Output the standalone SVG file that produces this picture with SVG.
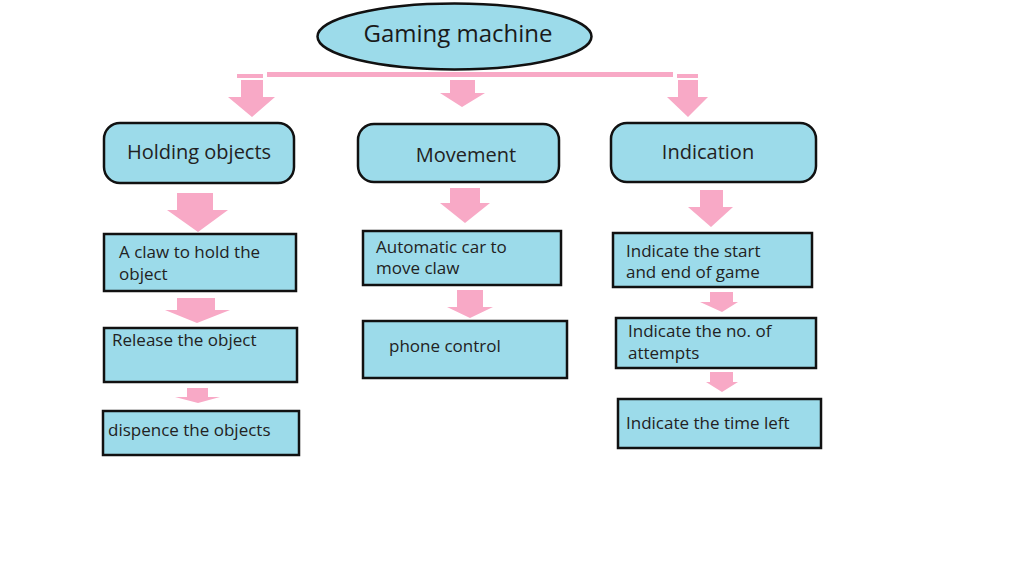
<svg xmlns="http://www.w3.org/2000/svg" width="1024" height="566" viewBox="0 0 1024 566">
<style>
.box{fill:#9cdbea;stroke:#111;stroke-width:2.5}
.arr{fill:#f8a9c6}
.t{font-family:"Open Sans","Noto Sans",sans-serif;font-size:17px;fill:#222}
.h{font-family:"Open Sans","Noto Sans",sans-serif;font-size:20px;fill:#222}
.title{font-family:"Open Sans","Noto Sans",sans-serif;font-size:24px;fill:#1a1a1a}
</style>
<rect width="1024" height="566" fill="#fff"/>
<g id="connectors">
<rect class="arr" x="267" y="72" width="406" height="5"/>
<rect class="arr" x="237" y="74" width="26" height="4"/>
<rect class="arr" x="677" y="74" width="21" height="4"/>
<path class="arr" d="M241 80H263V97H275L252 117L228 97H241Z"/>
<path class="arr" d="M450 80H475V93H485L462 107L440 93H450Z"/>
<path class="arr" d="M678 80H698V97H708L688 117L667 97H678Z"/>
<path class="arr" d="M177 193H213V210H228L198 232L167 210H177Z"/>
<path class="arr" d="M450 188H480V203H490L465 223L440 203H450Z"/>
<path class="arr" d="M700 190H723V207H733L711 227L688 207H700Z"/>
<path class="arr" d="M177 298H215V310H230L197 323L165 310H177Z"/>
<path class="arr" d="M457 290H483V307H493L470 318L447 307H457Z"/>
<path class="arr" d="M710 292H733V302H738L722 312L700 302H710Z"/>
<path class="arr" d="M187 388H208V397H220L198 403L175 397H187Z"/>
<path class="arr" d="M710 372H733V382H738L722 392L706 382H710Z"/>
</g>
<g id="root">
<ellipse class="box" cx="454.5" cy="36.5" rx="137" ry="33"/>
<text class="title" x="458" y="42" text-anchor="middle">Gaming machine</text>
</g>
<g id="holding">
<rect class="box" x="104" y="123" width="190" height="60" rx="16"/>
<text class="h" x="199" y="159" text-anchor="middle">Holding objects</text>
</g>
<g id="movement">
<rect class="box" x="358" y="124" width="201" height="58" rx="16"/>
<text class="h" x="466" y="162" text-anchor="middle">Movement</text>
</g>
<g id="indication">
<rect class="box" x="611" y="123" width="205" height="59" rx="16"/>
<text class="h" x="708" y="159" text-anchor="middle">Indication</text>
</g>
<g id="claw">
<rect class="box" x="104" y="234" width="192" height="57"/>
<text class="t" x="119" y="258">A claw to hold the</text>
<text class="t" x="119" y="280">object</text>
</g>
<g id="release">
<rect class="box" x="104" y="328" width="193" height="54"/>
<text class="t" x="112" y="346">Release the object</text>
</g>
<g id="dispence">
<rect class="box" x="103" y="411" width="196" height="44"/>
<text class="t" x="108" y="436">dispence the objects</text>
</g>
<g id="car">
<rect class="box" x="363" y="231" width="198" height="54"/>
<text class="t" x="376" y="253">Automatic car to</text>
<text class="t" x="376" y="274">move claw</text>
</g>
<g id="phone">
<rect class="box" x="363" y="321" width="204" height="57"/>
<text class="t" x="389" y="352">phone control</text>
</g>
<g id="startend">
<rect class="box" x="613" y="233" width="199" height="54"/>
<text class="t" x="626" y="257">Indicate the start</text>
<text class="t" x="626" y="278">and end of game</text>
</g>
<g id="attempts">
<rect class="box" x="616" y="318" width="200" height="50"/>
<text class="t" x="628" y="337">Indicate the no. of</text>
<text class="t" x="628" y="359">attempts</text>
</g>
<g id="timeleft">
<rect class="box" x="618" y="399" width="203" height="49"/>
<text class="t" x="626" y="429">Indicate the time left</text>
</g>
</svg>
